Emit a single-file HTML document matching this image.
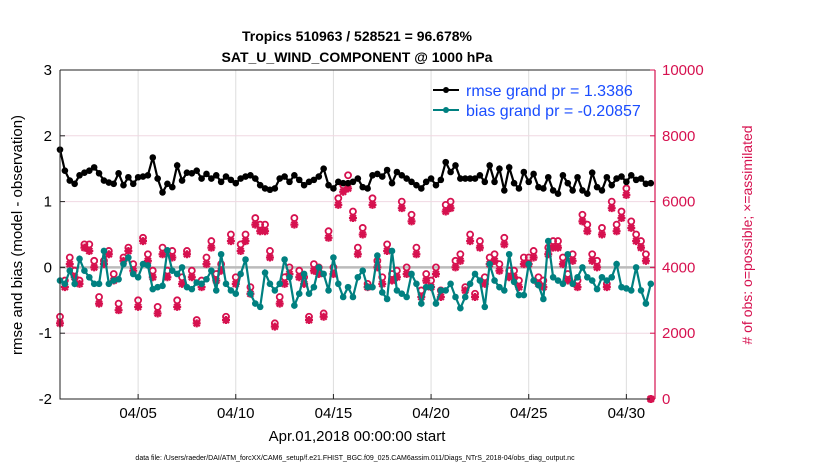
<!DOCTYPE html>
<html><head><meta charset="utf-8"><style>
body{margin:0;background:#fff;}
svg text{font-family:"Liberation Sans",sans-serif;}
</style></head><body>
<svg id="c" width="830" height="470" xmlns="http://www.w3.org/2000/svg">
<text x="357" y="41" text-anchor="middle" font-size="14" font-weight="bold">Tropics 510963 / 528521 = 96.678%</text>
<text x="357" y="62" text-anchor="middle" font-size="14" font-weight="bold">SAT_U_WIND_COMPONENT @ 1000 hPa</text>
<g id="grid"></g><g id="marks"></g><g id="axes"></g>
<text transform="translate(22,235) rotate(-90)" text-anchor="middle" font-size="15">rmse and bias (model - observation)</text>
<text transform="translate(752,235) rotate(-90)" text-anchor="middle" font-size="14" fill="#d6114f"># of obs: o=possible; ×=assimilated</text>
<text x="357" y="441" text-anchor="middle" font-size="15">Apr.01,2018 00:00:00 start</text>
<text x="355" y="460" text-anchor="middle" font-size="7">data file: /Users/raeder/DAI/ATM_forcXX/CAM6_setup/f.e21.FHIST_BGC.f09_025.CAM6assim.011/Diags_NTrS_2018-04/obs_diag_output.nc</text>
<g>
<line x1="433" y1="90" x2="459" y2="90" stroke="#000" stroke-width="2"/><circle cx="446" cy="90" r="3" fill="#000"/>
<text x="466" y="96" font-size="16" fill="#1a4dff">rmse grand pr = 1.3386</text>
<line x1="433" y1="110" x2="459" y2="110" stroke="#008080" stroke-width="2"/><circle cx="446" cy="110" r="3" fill="#008080"/>
<text x="466" y="116" font-size="16" fill="#1a4dff">bias grand pr = -0.20857</text>
</g>
</svg>
<script>
const xTickLabels=["04/05","04/10","04/15","04/20","04/25","04/30"];
const xTickDays=[4,9,14,19,24,29];
const yTicks=[3,2,1,0,-1,-2];
const rTicks=[0,2000,4000,6000,8000,10000];
const rmse=[1.79,1.47,1.32,1.27,1.40,1.44,1.47,1.52,1.43,1.32,1.29,1.27,1.43,1.25,1.37,1.27,1.37,1.38,1.40,1.67,1.35,1.14,1.27,1.22,1.55,1.32,1.44,1.43,1.47,1.35,
1.42,1.35,1.40,1.30,1.38,1.33,1.28,1.35,1.38,1.40,1.35,1.25,1.20,1.18,1.20,1.35,1.38,1.30,1.40,1.33,1.25,1.30,1.33,1.38,1.50,1.25,1.20,1.30,1.28,
1.28,1.30,1.35,1.22,1.20,1.40,1.42,1.38,1.48,1.28,1.45,1.40,1.35,1.30,1.25,1.20,1.30,1.35,1.25,1.33,1.60,1.45,1.55,1.35,1.35,1.35,1.35,1.40,1.30,
1.55,1.30,1.50,1.17,1.52,1.28,1.20,1.45,1.30,1.42,1.22,1.20,1.37,1.17,1.12,1.40,1.28,1.17,1.37,1.17,1.12,1.44,1.22,1.17,1.37,1.25,1.35,1.38,1.30,1.40,1.33,1.35,1.27,1.28];
const bias=[-0.2,-0.25,-0.05,-0.25,0.13,-0.05,-0.15,-0.25,-0.25,0.25,-0.25,-0.2,-0.18,0.05,0.15,-0.1,-0.15,0.05,0.03,-0.33,-0.3,-0.28,0.26,-0.05,-0.1,0.0,-0.3,-0.33,-0.23,-0.25,
-0.18,-0.05,-0.35,0.2,-0.25,-0.35,-0.4,-0.1,0.12,-0.4,-0.55,-0.6,-0.08,-0.25,-0.35,-0.25,0.12,-0.15,-0.58,-0.4,-0.1,-0.4,-0.3,0.0,-0.1,-0.35,0.15,-0.25,-0.45,
-0.3,-0.45,-0.15,-0.05,-0.3,-0.3,0.18,-0.38,-0.48,0.25,-0.35,-0.4,-0.45,-0.1,-0.25,-0.55,-0.3,-0.3,-0.55,-0.35,-0.35,-0.25,-0.45,-0.62,-0.45,-0.25,-0.1,-0.2,-0.6,
0.05,-0.2,-0.3,-0.35,0.2,-0.22,-0.42,-0.42,0.05,-0.2,-0.27,-0.48,0.4,-0.15,-0.2,-0.25,0.2,-0.25,-0.15,0.0,-0.15,-0.2,-0.33,-0.15,-0.2,-0.15,0.05,-0.3,-0.32,-0.35,0.0,-0.35,-0.55,-0.25];
const possible=[2500,3600,4300,3900,3600,4700,4700,4200,3100,4200,4500,3800,2900,4300,4600,4100,3000,4900,4400,3900,2800,4600,3900,4500,3000,3700,4500,3900,2400,3600,
4300,4800,3800,4100,2500,5000,3700,4700,5000,3400,5500,5300,5300,4500,2300,3100,3700,4000,5500,3900,3700,2500,4100,4000,2600,5100,4000,6100,6500,
6800,5700,4600,5200,3500,6100,4200,3700,4700,3800,3900,6000,4000,5600,4600,3300,3800,3600,4000,3300,5900,6000,4200,4400,3400,5000,3200,4800,3700,
4300,4400,4100,4900,3900,3900,3600,4300,4300,4500,3700,3600,4600,4800,4800,4300,3800,4400,3600,5600,5300,4400,4200,5200,3500,6000,5300,5700,6400,5400,5000,4800,4400,0];
const assimilated=[2300,3400,4100,3700,3500,4600,4500,4000,2900,4100,4400,3600,2700,4200,4500,3900,2800,4800,4200,3700,2600,4400,3700,4300,2800,3500,4400,3700,2300,3400,
4100,4600,3600,3900,2400,4800,3500,4500,4800,3200,5300,5100,5100,4300,2200,2900,3500,3800,5300,3700,3500,2400,3900,3800,2500,4900,3800,5900,6300,
6400,5500,4400,5000,3400,5900,4000,3500,4500,3600,3700,5800,3800,5400,4400,3100,3600,3400,3800,3100,5700,5800,4000,4200,3300,4800,3100,4600,3500,
4100,4200,3900,4700,3700,3700,3400,4100,4100,4300,3500,3400,4400,4600,4600,4100,3600,4200,3400,5400,5100,4200,4000,5000,3400,5800,5100,5500,6200,5200,4800,4600,4200,0];

const NS="http://www.w3.org/2000/svg";
const L=60,R=655,T=70,B=399;
const xs=d=>L+d*19.53;
const ys=v=>B-(v+2)/5*(B-T);
const yr=v=>B-v/10000*(B-T);
const RED="#d6114f",TEAL="#008080";
function mk(parent,tag,attrs){const e=document.createElementNS(NS,tag);for(const k in attrs)e.setAttribute(k,attrs[k]);document.getElementById(parent).appendChild(e);return e;}
// grid
xTickDays.forEach(d=>{const g=mk('grid','line',{x1:xs(d),x2:xs(d),y1:T,y2:B,stroke:'#ddd','stroke-width':1});

});
rTicks.slice(1,5).forEach(v=>{const g=mk('grid','line',{x1:L,x2:R,y1:yr(v),y2:yr(v),stroke:'#f0d8e2','stroke-width':1});

});
const z=mk('grid','line',{x1:L,x2:R,y1:ys(0),y2:ys(0),stroke:'#bbb','stroke-width':2.5});


// obs
possible.forEach((v,i)=>{const c=mk('marks','circle',{cx:xs(i*0.25),cy:yr(v),r:3,fill:'none',stroke:RED,'stroke-width':1.8});

});
assimilated.forEach((v,i)=>{const x=xs(i*0.25),y=yr(v);const p=mk('marks','path',{d:`M${x-4} ${y}H${x+4}M${x} ${y-4}V${y+4}M${x-3} ${y-3}L${x+3} ${y+3}M${x-3} ${y+3}L${x+3} ${y-3}`,stroke:RED,'stroke-width':2.2});

});
// bias
const bl=mk('marks','polyline',{points:bias.map((v,i)=>xs(i*0.25)+','+ys(v)).join(' '),fill:'none',stroke:TEAL,'stroke-width':2.2});


bias.forEach((v,i)=>{const c=mk('marks','circle',{cx:xs(i*0.25),cy:ys(v),r:3.3,fill:TEAL});

});
// rmse
const rl=mk('marks','polyline',{points:rmse.map((v,i)=>xs(i*0.25)+','+ys(v)).join(' '),fill:'none',stroke:'#000','stroke-width':2.2});


rmse.forEach((v,i)=>{const c=mk('marks','circle',{cx:xs(i*0.25),cy:ys(v),r:3.3,fill:'#000'});

});
// axes
const ax=mk('axes','path',{d:`M${L} ${T}V${B}H${R}M${L} ${T}H${R}`,stroke:'#222','stroke-width':1,fill:'none'});


const ra=mk('axes','line',{x1:R,x2:R,y1:T,y2:B,stroke:RED,'stroke-width':1.2});


yTicks.forEach(v=>{mk('axes','line',{x1:L,x2:L+5,y1:ys(v),y2:ys(v),stroke:'#222'});
const t=mk('axes','text',{x:L-8,y:ys(v)+5,'text-anchor':'end','font-size':15});t.textContent=v;

});
rTicks.forEach(v=>{mk('axes','line',{x1:R-5,x2:R,y1:yr(v),y2:yr(v),stroke:RED});
const t=mk('axes','text',{x:R+7,y:yr(v)+5,'font-size':15,fill:RED});t.textContent=v;

});
xTickDays.forEach((d,i)=>{mk('axes','line',{x1:xs(d),x2:xs(d),y1:B,y2:B-5,stroke:'#222'});
const t=mk('axes','text',{x:xs(d),y:B+19,'text-anchor':'middle','font-size':15});t.textContent=xTickLabels[i];

});
</script>
</body></html>
